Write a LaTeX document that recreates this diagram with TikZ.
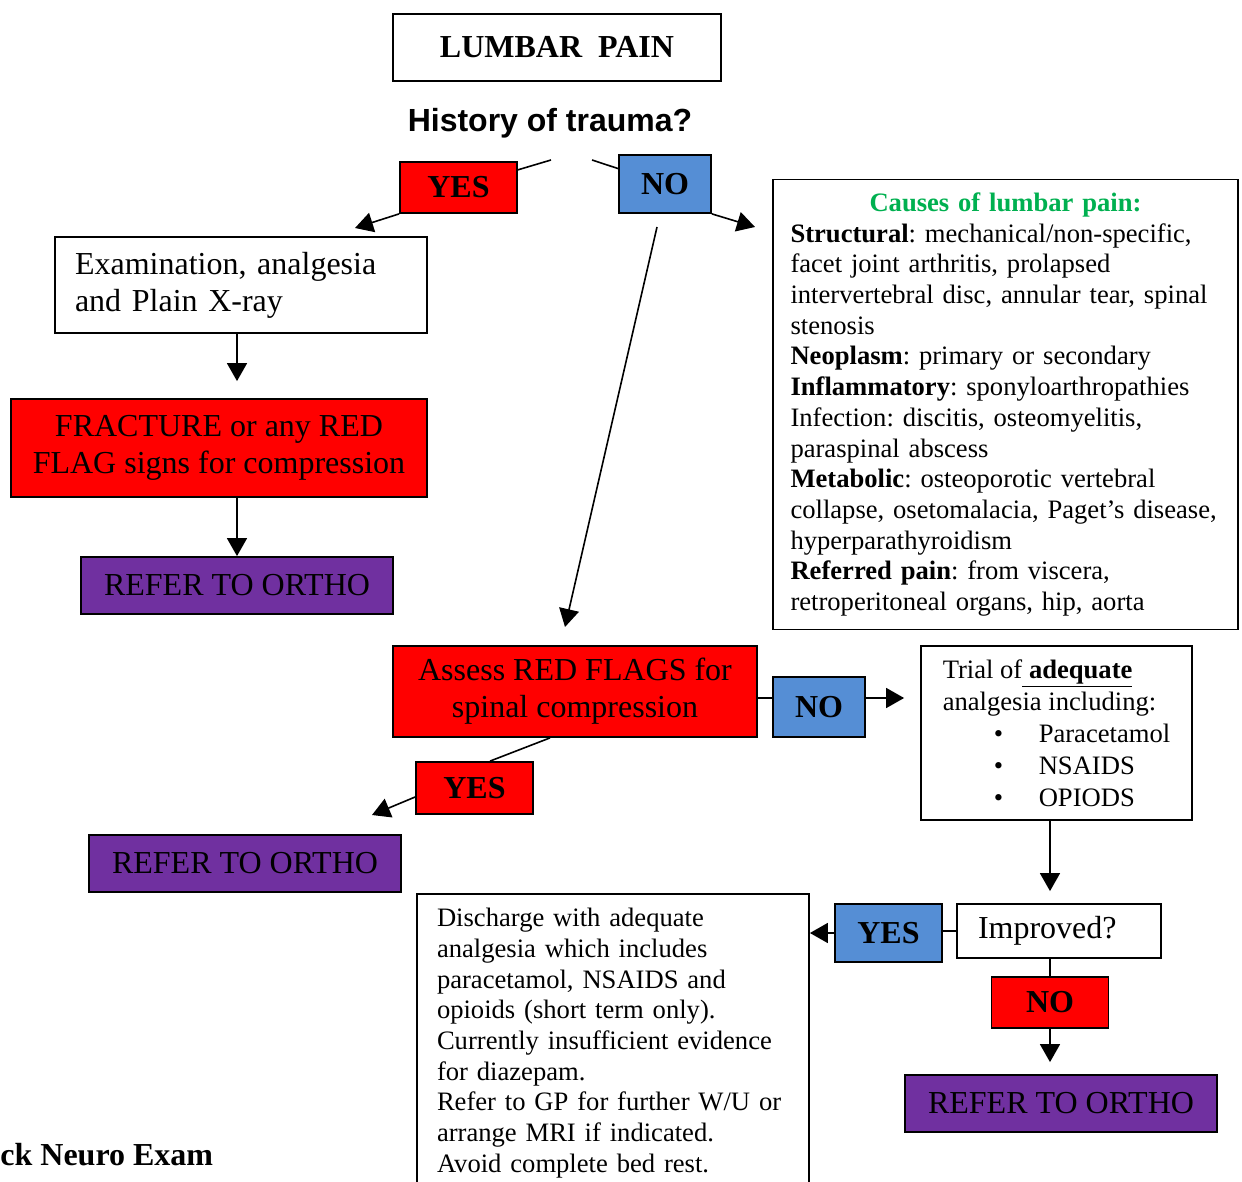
\documentclass[tikz,border=0pt]{standalone}
\usepackage{fontspec}
\setmainfont{Liberation Serif}
\newfontfamily\arialfont{Liberation Sans}
\usetikzlibrary{arrows.meta}
\definecolor{flagred}{HTML}{FF0000}
\definecolor{noblue}{HTML}{558ED5}
\definecolor{orthopurple}{HTML}{7030A0}
\definecolor{causegreen}{HTML}{00B050}
\frenchspacing

\begin{document}
\begin{tikzpicture}[x=0.5pt,y=-0.5pt,
  box/.style={draw,line width=0.9pt,inner sep=0pt,font=\fontsize{16}{18.5}\selectfont},
  redbox/.style={box,fill=flagred},
  bluebox/.style={box,fill=noblue},
  orthobox/.style={box,fill=orthopurple,minimum width=156pt,minimum height=28.5pt},
  ans/.style={font=\fontsize{16}{18.5}\selectfont\bfseries},
  smalltext/.style={font=\fontsize{13.3}{15.35}\selectfont},
  arr/.style={line width=0.8pt,-{Triangle[length=9pt,width=10pt]}},
  link/.style={line width=0.8pt}]
\useasboundingbox (0,0) rectangle (1242,1182);

% title and first question
\node[box,minimum width=164pt,minimum height=33.5pt,font=\fontsize{16}{18.5}\selectfont\bfseries] (lumbar) at (557,47.5) {LUMBAR\ \ PAIN};
\node[inner sep=0pt,font=\arialfont\fontsize{16}{18.5}\selectfont\bfseries] (trauma) at (550,123) {History of trauma?};
\coordinate (traumaL) at (551,160);
\coordinate (traumaR) at (592,160);
\node[redbox,ans,minimum width=58.5pt,minimum height=25.5pt] (yesA) at (458.5,187.5) {YES};
\node[bluebox,ans,minimum width=46pt,minimum height=29pt] (noA) at (665,184) {NO};
\draw[link] (traumaL) -- (yesA);
\draw[link] (traumaR) -- (noA);

% trauma: yes
\node[box,minimum width=186pt,minimum height=48pt,text width=166pt,align=left] (exam) at (241,285) {Examination, analgesia\\and Plain X-ray};
\node[redbox,minimum width=208pt,minimum height=49pt,align=center] (fracture) at (219,448) {FRACTURE or any RED\\FLAG signs for compression};
\node[orthobox] (referA) at (237,585.5) {REFER TO ORTHO};
\coordinate (yesAtip) at (355,228);
\draw[arr] (yesA.south west) -- (yesAtip);
\draw[arr,shorten >=8.5pt] (exam.south -| referA.north) -- (fracture.north -| referA.north);
\draw[arr] (fracture.south -| referA.north) -- (referA.north);

% trauma: no
\node[box,smalltext,minimum width=232.5pt,minimum height=225pt,text width=215pt,align=left] (causes) at (1005.5,404.5) {\makebox[\hsize][c]{\color{causegreen}\bfseries Causes of lumbar pain:}\\
\textbf{Structural}: mechanical/non-specific,\\
facet joint arthritis, prolapsed\\
intervertebral disc, annular tear, spinal\\
stenosis\\
\textbf{Neoplasm}: primary or secondary\\
\textbf{Inflammatory}: sponyloarthropathies\\
Infection: discitis, osteomyelitis,\\
paraspinal abscess\\
\textbf{Metabolic}: osteoporotic vertebral\\
collapse, osetomalacia, Paget’s disease,\\
hyperparathyroidism\\
\textbf{Referred pain}: from viscera,\\
retroperitoneal organs, hip, aorta};
\coordinate (causesTip) at (755,227);
\draw[arr] (noA.south east) -- (causesTip);
\coordinate (noAfoot) at (657,227);
\coordinate (assessTop) at (565,627);
\draw[arr] (noAfoot) -- (assessTop);

% red flags
\node[redbox,minimum width=182pt,minimum height=45.5pt,align=center] (assess) at (575,691.5) {Assess RED FLAGS for\\spinal compression};
\node[bluebox,ans,minimum width=46pt,minimum height=30pt] (noB) at (819,707) {NO};
\node[box,font=\fontsize{13.3}{16}\selectfont,minimum width=135.5pt,minimum height=87pt,align=left] (trial) at (1056.5,733) {Trial of\underline{\textbf{ adequate}}\\
analgesia including:\\
\hspace*{25.5pt}\makebox[22.5pt][l]{\textbullet}Paracetamol\\
\hspace*{25.5pt}\makebox[22.5pt][l]{\textbullet}NSAIDS\\
\hspace*{25.5pt}\makebox[22.5pt][l]{\textbullet}OPIODS};
\coordinate (noBin) at ([yshift=4.5pt]noB.west);
\coordinate (noBout) at ([yshift=4.5pt]noB.east);
\draw[link] (noBin -| assess.east) -- (noBin);
\draw[arr,shorten >=8pt] (noBout) -- (noBout -| trial.west);
\node[redbox,ans,minimum width=58.5pt,minimum height=26pt] (yesB) at (474.5,788) {YES};
\node[orthobox] (referB) at (245,863.5) {REFER TO ORTHO};
\draw[link] ([xshift=-12.5pt]assess.south) -- ([xshift=7.75pt]yesB.north);
\coordinate (yesBtip) at (372,815);
\draw[arr] ([yshift=-4.5pt]yesB.west) -- (yesBtip);

% improved?
\node[box,minimum width=102pt,minimum height=27pt,text width=81pt,align=left] (improved) at (1059,931) {Improved?};
\node[bluebox,ans,minimum width=53.5pt,minimum height=29pt] (yesC) at (888.5,933) {YES};
\node[redbox,ans,minimum width=58.5pt,minimum height=25.5pt] (noC) at (1050,1002.5) {NO};
\node[orthobox] (referC) at (1061,1103.5) {REFER TO ORTHO};
\node[box,smalltext,minimum width=196pt,minimum height=149pt,text width=176pt,align=left] (discharge) at (613,1043) {Discharge with adequate\\
analgesia which includes\\
paracetamol, NSAIDS and\\
opioids (short term only).\\
Currently insufficient evidence\\
for diazepam.\\
Refer to GP for further W/U or\\
arrange MRI if indicated.\\
Avoid complete bed rest.};
\draw[arr,shorten >=6pt] (trial.south -| noC.north) -- (improved.north -| noC.north);
\draw[link] (improved.south -| noC.north) -- (noC.north);
\draw[arr,shorten >=6pt] (noC.south) -- (referC.north -| noC.south);
\draw[link] (improved.west) -- (improved.west -| yesC.east);
\draw[arr] (yesC.west) -- (yesC.west -| discharge.east);

\node[anchor=west,inner sep=0pt,font=\fontsize{16}{18.5}\selectfont\bfseries] (neuro) at (0,1155) {ck Neuro Exam};
\end{tikzpicture}
\end{document}
